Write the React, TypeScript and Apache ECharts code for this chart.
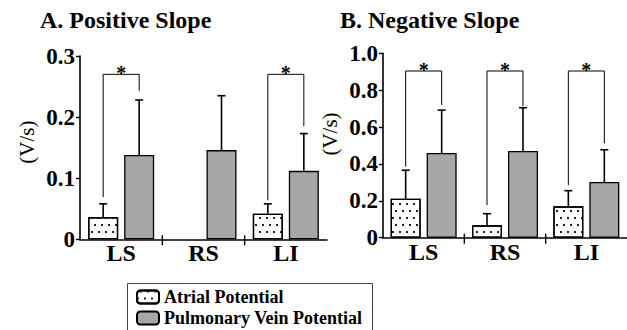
import React, { useEffect, useRef } from 'react';
import * as echarts from 'echarts';

const categories = ['LS', 'RS', 'LI'];
const seriesNames = ['Atrial Potential', 'Pulmonary Vein Potential'];

// A. Positive slope (V/s): mean and SD
const posAtrialMean = [0.036, null, 0.042];
const posAtrialSD = [0.022, null, 0.016];
const posVeinMean = [0.138, 0.146, 0.112];
const posVeinSD = [0.09, 0.089, 0.061];

// B. Negative slope (V/s): mean and SD
const negAtrialMean = [0.211, 0.067, 0.17];
const negAtrialSD = [0.155, 0.063, 0.085];
const negVeinMean = [0.459, 0.47, 0.302];
const negVeinSD = [0.233, 0.235, 0.175];

// significance brackets: top level, left leg end, right leg end
const posSigTop = [0.27, null, 0.27];
const posSigLeft = [0.069, null, 0.064];
const posSigRight = [0.243, null, 0.185];
const negSigTop = [0.904, 0.904, 0.904];
const negSigLeft = [0.385, 0.177, 0.285];
const negSigRight = [0.72, 0.714, 0.512];

const posTickLabels = ['0', '0.1', '0.2', '0.3'];
const negTickLabels = ['0', '0.2', '0.4', '0.6', '0.8', '1.0'];

const FONT = 'Liberation Serif, Times New Roman, serif';
const OFFSET = 18;
const GRAY = '#a7a7a7';

const dotDecal = {
  symbol: 'rect',
  symbolSize: 1,
  color: '#222',
  backgroundColor: '#fff',
  dashArrayX: [[1.2, 4.8], [0, 3, 1.2, 1.8]],
  dashArrayY: [1.2, 4.8],
  rotation: 0,
};

function barSeries(gi: number, name: string, data: (number | null)[], isAtrial: boolean) {
  return {
    type: 'bar',
    name,
    xAxisIndex: gi,
    yAxisIndex: gi,
    barWidth: 30,
    barGap: '20%',
    data: data.map((v) => (v == null ? '-' : v)),
    itemStyle: isAtrial
      ? { color: '#fff', borderColor: '#000', borderWidth: 1.3, decal: dotDecal }
      : { color: GRAY, borderColor: '#000', borderWidth: 1.3 },
  };
}

function errSeries(gi: number, means: (number | null)[], sds: (number | null)[], side: number) {
  const data: any[] = [];
  means.forEach((m, i) => {
    if (m != null && sds[i] != null) data.push([i, m, sds[i]]);
  });
  return {
    type: 'custom',
    xAxisIndex: gi,
    yAxisIndex: gi,
    z: 5,
    silent: true,
    encode: { x: 0, y: 1 },
    data,
    renderItem: (params: any, api: any) => {
      const c = api.coord([api.value(0), api.value(1)]);
      const t = api.coord([api.value(0), api.value(1) + api.value(2)]);
      const x = c[0] + side * OFFSET;
      return {
        type: 'group',
        children: [
          { type: 'line', shape: { x1: x, y1: c[1], x2: x, y2: t[1] }, style: { stroke: '#000', lineWidth: 1.6 } },
          { type: 'line', shape: { x1: x - 4, y1: t[1], x2: x + 4, y2: t[1] }, style: { stroke: '#000', lineWidth: 1.6 } },
        ],
      };
    },
  };
}

function sigSeries(gi: number, tops: (number | null)[], lefts: (number | null)[], rights: (number | null)[]) {
  const data: any[] = [];
  tops.forEach((t, i) => {
    if (t != null) data.push([i, t, lefts[i], rights[i]]);
  });
  return {
    type: 'custom',
    xAxisIndex: gi,
    yAxisIndex: gi,
    z: 6,
    silent: true,
    encode: { x: 0, y: 1 },
    data,
    renderItem: (params: any, api: any) => {
      const i = api.value(0);
      const top = api.coord([i, api.value(1)]);
      const l = api.coord([i, api.value(2)]);
      const r = api.coord([i, api.value(3)]);
      const xl = top[0] - OFFSET;
      const xr = top[0] + OFFSET;
      return {
        type: 'group',
        children: [
          {
            type: 'polyline',
            shape: { points: [[xl, l[1]], [xl, top[1]], [xr, top[1]], [xr, r[1]]] },
            style: { stroke: '#000', lineWidth: 1, fill: 'none' },
          },
          {
            type: 'text',
            style: {
              text: '*',
              x: top[0],
              y: top[1] - 1,
              align: 'center',
              verticalAlign: 'middle',
              font: 'bold 20px ' + FONT,
              fill: '#000',
            },
          },
        ],
      };
    },
  };
}

function sepSeries(gi: number) {
  const data = categories.slice(1).map((_, i) => [i + 1, 0]);
  return {
    type: 'custom',
    xAxisIndex: gi,
    yAxisIndex: gi,
    z: 7,
    silent: true,
    encode: { x: 0, y: 1 },
    data,
    renderItem: (params: any, api: any) => {
      const w = api.size([1, 0])[0];
      const c = api.coord([api.value(0), 0]);
      const x = c[0] - w / 2;
      return {
        type: 'line',
        shape: { x1: x, y1: c[1] - 4, x2: x, y2: c[1] + 6 },
        style: { stroke: '#000', lineWidth: 1.4 },
      };
    },
  };
}

function xAxis(gi: number) {
  return {
    type: 'category',
    gridIndex: gi,
    data: categories,
    axisLine: { lineStyle: { color: '#000', width: 1.6 } },
    axisTick: { show: false },
    axisLabel: { color: '#000', fontFamily: FONT, fontWeight: 'bold', fontSize: 24, margin: 2 },
  };
}

function yAxis(gi: number, max: number, interval: number, labels: string[], padUp: number) {
  return {
    type: 'value',
    gridIndex: gi,
    min: 0,
    max,
    interval,
    splitLine: { show: false },
    axisLine: { show: true, lineStyle: { color: '#000', width: 1.6 } },
    axisTick: { show: true, length: 4, lineStyle: { color: '#000', width: 1.4 } },
    axisLabel: {
      color: '#000',
      fontFamily: FONT,
      fontWeight: 'bold',
      fontSize: 23,
      margin: 5,
      formatter: (v: number, idx: number) => labels[idx],
    },
    name: '(V/s)',
    nameLocation: 'middle',
    nameGap: 43,
    nameTextStyle: { color: '#000', fontFamily: FONT, fontSize: 21, padding: [0, 0, 0, padUp] },
  };
}

export default function App() {
  const ref = useRef<HTMLDivElement>(null);
  useEffect(() => {
    if (!ref.current) return;
    const chart = echarts.init(ref.current, null, { renderer: 'svg' });
    chart.setOption({
      animation: false,
      backgroundColor: '#fff',
      grid: [
        { left: 80, top: 56, width: 247, height: 183.3 },
        { left: 383, top: 53.3, width: 244, height: 184.4 },
      ],
      xAxis: [xAxis(0), xAxis(1)],
      yAxis: [yAxis(0, 0.3, 0.1, posTickLabels, 11), yAxis(1, 1.0, 0.2, negTickLabels, 23)],
      legend: {
        data: seriesNames,
        orient: 'vertical',
        left: 128,
        top: 286,
        itemWidth: 22,
        itemHeight: 13,
        itemGap: 3,
        padding: [2, 4, 2, 8],
        selectedMode: false,
        textStyle: { color: '#000', fontFamily: FONT, fontWeight: 'bold', fontSize: 18 },
      },
      graphic: [
        { type: 'text', x: 40, y: 8, style: { text: 'A. Positive Slope', font: 'bold 24px ' + FONT, fill: '#000' } },
        { type: 'text', x: 340, y: 8, style: { text: 'B. Negative Slope', font: 'bold 24px ' + FONT, fill: '#000' } },
        {
          type: 'rect',
          shape: { x: 127.5, y: 283.5, width: 245, height: 60 },
          style: { fill: 'none', stroke: '#444', lineWidth: 1 },
          silent: true,
        },
      ],
      series: [
        barSeries(0, seriesNames[0], posAtrialMean, true),
        barSeries(0, seriesNames[1], posVeinMean, false),
        barSeries(1, seriesNames[0], negAtrialMean, true),
        barSeries(1, seriesNames[1], negVeinMean, false),
        errSeries(0, posAtrialMean, posAtrialSD, -1),
        errSeries(0, posVeinMean, posVeinSD, 1),
        errSeries(1, negAtrialMean, negAtrialSD, -1),
        errSeries(1, negVeinMean, negVeinSD, 1),
        sigSeries(0, posSigTop, posSigLeft, posSigRight),
        sigSeries(1, negSigTop, negSigLeft, negSigRight),
        sepSeries(0),
        sepSeries(1),
      ],
    });
    return () => chart.dispose();
  }, []);
  return <div ref={ref} style={{ position: 'fixed', left: 0, top: 0, width: 627, height: 330 }} />;
}
